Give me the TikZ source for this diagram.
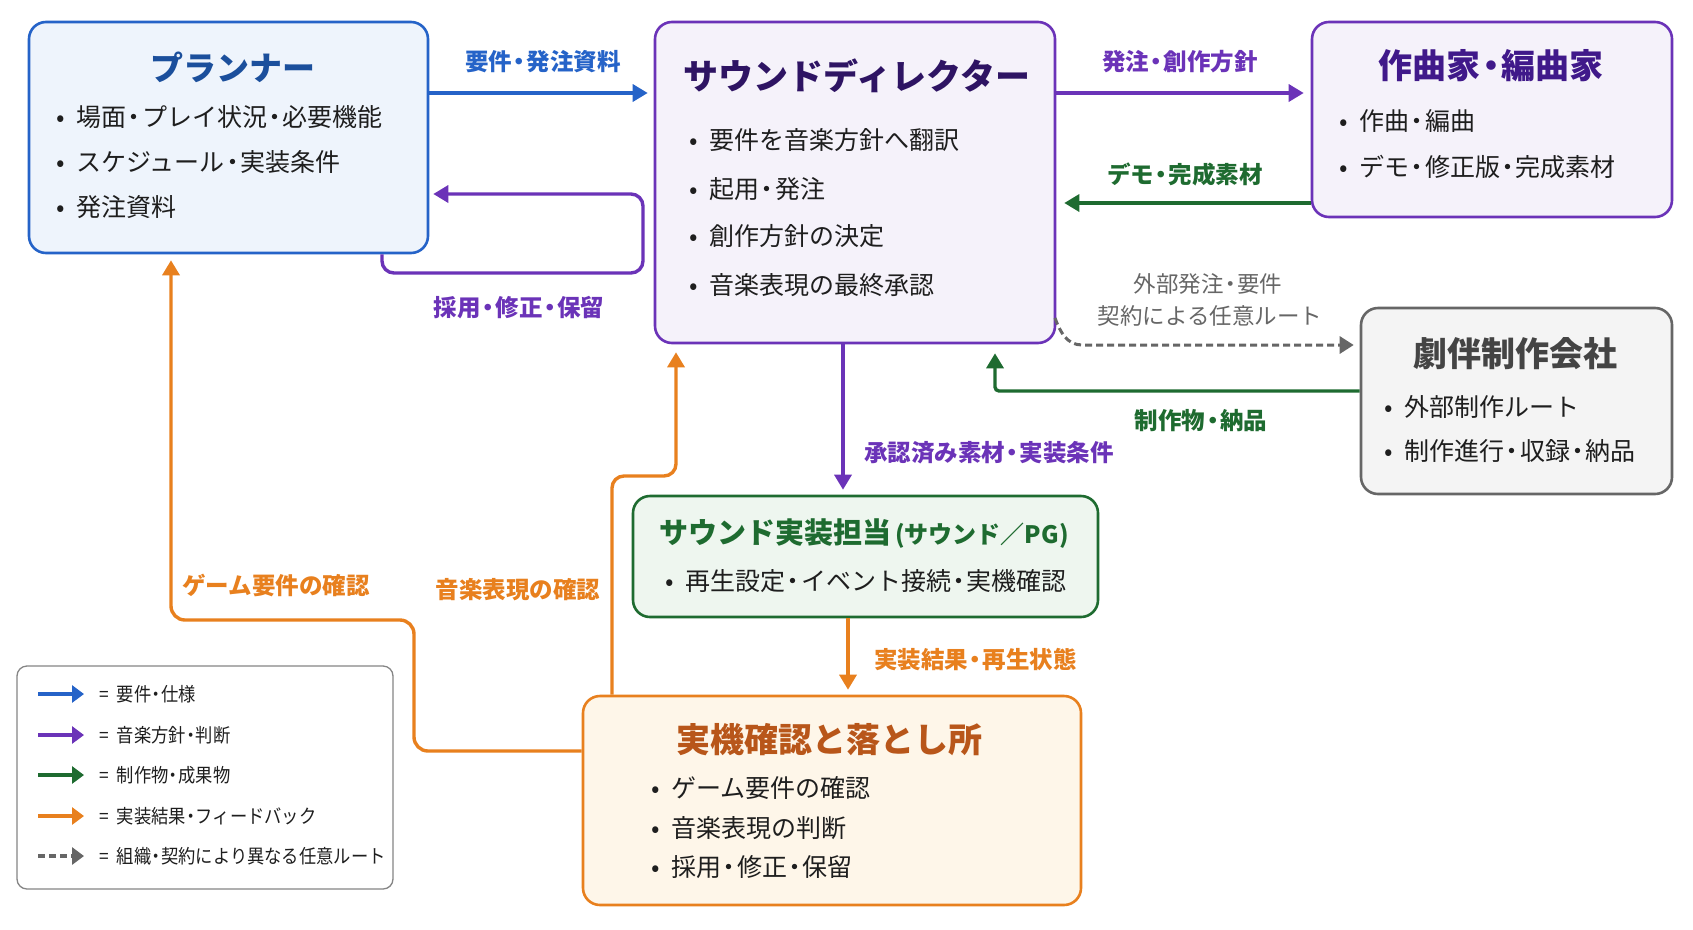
\documentclass[tikz,border=0pt]{standalone}
\usepackage{fontspec}
\setmainfont{Noto Sans CJK JP}
\newfontfamily\legfont{Noto Sans CJK JP}[FakeStretch=0.9]
\usetikzlibrary{arrows.meta,calc}
\newcommand{\dt}{\kern-0.19em・\kern-0.19em}
\newcommand{\bu}{•\hspace{12pt}}
\definecolor{ink}{HTML}{1E1E1E}
\definecolor{cblue}{HTML}{2563C8}
\definecolor{cbluedark}{HTML}{1B4F9C}
\definecolor{cbluefill}{HTML}{EEF4FC}
\definecolor{cpurple}{HTML}{6B33B8}
\definecolor{cpurpledark}{HTML}{2E1463}
\definecolor{cpurpletitle}{HTML}{40198A}
\definecolor{cpurplefill}{HTML}{F5F2FA}
\definecolor{cgreen}{HTML}{1E6B30}
\definecolor{cgreenfill}{HTML}{EEF6EF}
\definecolor{corange}{HTML}{E8801E}
\definecolor{corangetitle}{HTML}{B8561A}
\definecolor{corangefill}{HTML}{FEF6E9}
\definecolor{cgray}{HTML}{666666}
\definecolor{cgraytitle}{HTML}{444444}
\definecolor{cgrayfill}{HTML}{F4F4F4}
\begin{document}
\begin{tikzpicture}[x=1pt,y=-1pt,
  box/.style={draw, rounded corners=17pt, line width=2.6pt, inner sep=0pt},
  title/.style={font=\fontsize{33}{38}\selectfont\bfseries, inner sep=0pt},
  item/.style={font=\fontsize{25}{29}\selectfont, anchor=west, inner sep=0pt, text=ink},
  lab/.style={font=\fontsize{23.5}{27}\selectfont\bfseries, inner sep=0pt},
  glab/.style={font=\fontsize{22.5}{26}\selectfont, inner sep=0pt, text=cgray},
  conn/.style={line width=3.4pt, -{Triangle[length=15pt,width=17pt]}},
  legtext/.style={font=\legfont\fontsize{19.2}{23}\selectfont, anchor=west, inner sep=0pt, text=ink},
  legarrow/.style={line width=4.5pt, -{Triangle[length=12pt,width=17pt]}}
]
\useasboundingbox[fill=white] (0,0) rectangle (1693,929);

% ---------- boxes ----------
\node[box, draw=cblue, fill=cbluefill, minimum width=399pt, minimum height=231pt] (planner) at (228.5,137.5) {};
\node[box, draw=cpurple, fill=cpurplefill, minimum width=400pt, minimum height=321pt] (sd) at (855,182.5) {};
\node[box, draw=cpurple, fill=cpurplefill, minimum width=360pt, minimum height=195pt] (comp) at (1492,119.5) {};
\node[box, draw=cgray, fill=cgrayfill, minimum width=311pt, minimum height=186pt] (studio) at (1516.5,401) {};
\node[box, draw=cgreen, fill=cgreenfill, minimum width=465pt, minimum height=121pt] (impl) at (865.5,556.5) {};
\node[box, draw=corange, fill=corangefill, minimum width=498pt, minimum height=209pt] (check) at (832,800.5) {};
\node[draw=cgray!80, fill=white, rounded corners=10pt, line width=1.3pt, minimum width=376pt, minimum height=223pt, inner sep=0pt] (legend) at (205,777.5) {};

% ---------- box texts ----------
\node[title, text=cbluedark] (plannerT) at (233,67) {プランナー};
\node[item] (p1) at (56,117) {\bu 場面\dt プレイ状況\dt 必要機能};
\node[item] (p2) at (56,162) {\bu スケジュール\dt 実装条件};
\node[item] (p3) at (56,207) {\bu 発注資料};

\node[title, text=cpurpledark, font=\fontsize{35}{40}\selectfont\bfseries] (sdT) at (857,76) {サウンドディレクター};
\node[item] (s1) at (689,140) {\bu 要件を音楽方針へ翻訳};
\node[item] (s2) at (689,189) {\bu 起用\dt 発注};
\node[item] (s3) at (689,236) {\bu 創作方針の決定};
\node[item] (s4) at (689,285) {\bu 音楽表現の最終承認};

\node[title, text=cpurpletitle, font=\fontsize{34}{40}\selectfont\bfseries] (compT) at (1491,66) {作曲家\dt 編曲家};
\node[item] (c1) at (1339,121) {\bu 作曲\dt 編曲};
\node[item] (c2) at (1339,167) {\bu デモ\dt 修正版\dt 完成素材};

\node[title, text=cgraytitle, font=\fontsize{34}{40}\selectfont\bfseries] (studioT) at (1515,354) {劇伴制作会社};
\node[item] (st1) at (1384,407) {\bu 外部制作ルート};
\node[item] (st2) at (1384,451) {\bu 制作進行\dt 収録\dt 納品};

\node[inner sep=0pt, text=cgreen, font=\bfseries] (implT) at (864,534) {{\fontsize{29}{33}\selectfont サウンド実装担当}{\fontsize{24}{28}\selectfont\,(サウンド／PG)}};
\node[item] (i1) at (665,581) {\bu 再生設定\dt イベント接続\dt 実機確認};

\node[title, text=corangetitle, font=\fontsize{34}{40}\selectfont\bfseries] (checkT) at (829,740) {実機確認と落とし所};
\node[item] (k1) at (651,788) {\bu ゲーム要件の確認};
\node[item] (k2) at (651,828) {\bu 音楽表現の判断};
\node[item] (k3) at (651,867) {\bu 採用\dt 修正\dt 保留};

% ---------- helper coordinates ----------
\coordinate (yA) at (0,93);
\coordinate (yB) at (0,203);
\coordinate (yLoopTop) at (0,194);
\coordinate (xLoopStart) at (382,0);
\coordinate (loop1) at (382,273);
\coordinate (loop2) at (643,273);
\coordinate (loop3) at (643,194);
\coordinate (xDown) at (843,0);
\coordinate (yStudio) at (0,391);
\coordinate (xUp) at (995,0);
\coordinate (gs) at (1055,318);
\coordinate (gbend) at (1082,345);
\coordinate (xImpl) at (848,0);
\coordinate (yGame) at (0,751);
\coordinate (og1) at (414,751);
\coordinate (og2) at (414,620);
\coordinate (og3) at (171,620);
\coordinate (xGame) at (171,0);
\coordinate (xMus) at (612,0);
\coordinate (om1) at (612,476);
\coordinate (om2) at (676,476);
\coordinate (xMusTop) at (676,0);

% ---------- connectors ----------
\draw[conn, cblue, shorten >=6pt] (planner.east |- yA) -- (sd.west |- yA);
\draw[conn, cpurple, shorten >=7pt] (sd.east |- yA) -- (comp.west |- yA);
\draw[conn, cgreen, shorten >=8pt] (comp.west |- yB) -- (sd.east |- yB);
\draw[conn, cpurple, rounded corners=12pt, shorten >=4pt] (planner.south -| xLoopStart) -- (loop1) -- (loop2) -- (loop3) -- (planner.east |- yLoopTop);
\draw[conn, cpurple, shorten >=5pt] (sd.south -| xDown) -- (impl.north -| xDown);
\draw[conn, cgreen, rounded corners=4pt, shorten >=9pt] (studio.west |- yStudio) -| (sd.south -| xUp);
\draw[line width=3pt, cgray, dashed, dash pattern=on 7pt off 4pt, -{Triangle[length=14pt,width=17pt]}, shorten >=6pt] (gs) to[out=-70,in=180] (gbend) -- (studio.west |- gbend);
\draw[conn, corange, shorten >=5pt] (impl.south -| xImpl) -- (check.north -| xImpl);
\draw[conn, corange, rounded corners=14pt, shorten >=6pt] (check.west |- yGame) -- (og1) -- (og2) -- (og3) -- (planner.south -| xGame);
\draw[conn, corange, rounded corners=12pt, shorten >=8pt] (check.north -| xMus) -- (om1) -- (om2) -- (sd.south -| xMusTop);

% ---------- connector labels ----------
\node[lab, text=cblue] (lA) at (543,62) {要件\dt 発注資料};
\node[lab, text=cpurple] (lB) at (1180,62) {発注\dt 創作方針};
\node[lab, text=cgreen] (lC) at (1185,174) {デモ\dt 完成素材};
\node[lab, text=cpurple] (lD) at (519,308) {採用\dt 修正\dt 保留};
\node[lab, text=cpurple, anchor=west] (lE) at (864,453) {承認済み素材\dt 実装条件};
\node[glab] (lF) at (1208,284) {外部発注\dt 要件};
\node[glab] (lG) at (1210,316) {契約による任意ルート};
\node[lab, text=cgreen] (lH) at (1201,421) {制作物\dt 納品};
\node[lab, text=corange, anchor=west] (lI) at (874,660) {実装結果\dt 再生状態};
\node[lab, text=corange] (lJ) at (276,585) {ゲーム要件の確認};
\node[lab, text=corange] (lK) at (518,590) {音楽表現の確認};

% ---------- legend ----------
\coordinate (la1) at (38,694); \coordinate (lb1) at (84,694);
\coordinate (la2) at (38,735); \coordinate (lb2) at (84,735);
\coordinate (la3) at (38,775); \coordinate (lb3) at (84,775);
\coordinate (la4) at (38,816); \coordinate (lb4) at (84,816);
\coordinate (la5) at (38,856); \coordinate (lb5) at (84,856);
\draw[legarrow, cblue] (la1) -- (lb1);
\draw[legarrow, cpurple] (la2) -- (lb2);
\draw[legarrow, cgreen] (la3) -- (lb3);
\draw[legarrow, corange] (la4) -- (lb4);
\draw[legarrow, cgray, dash pattern=on 7pt off 4pt] (la5) -- (lb5);
\node[legtext] (lt1) at (99,694) {=\hspace{8pt}要件\dt 仕様};
\node[legtext] (lt2) at (99,735) {=\hspace{8pt}音楽方針\dt 判断};
\node[legtext] (lt3) at (99,775) {=\hspace{8pt}制作物\dt 成果物};
\node[legtext] (lt4) at (99,816) {=\hspace{8pt}実装結果\dt フィードバック};
\node[legtext] (lt5) at (99,856) {=\hspace{8pt}組織\dt 契約により異なる任意ルート};
\end{tikzpicture}
\end{document}
